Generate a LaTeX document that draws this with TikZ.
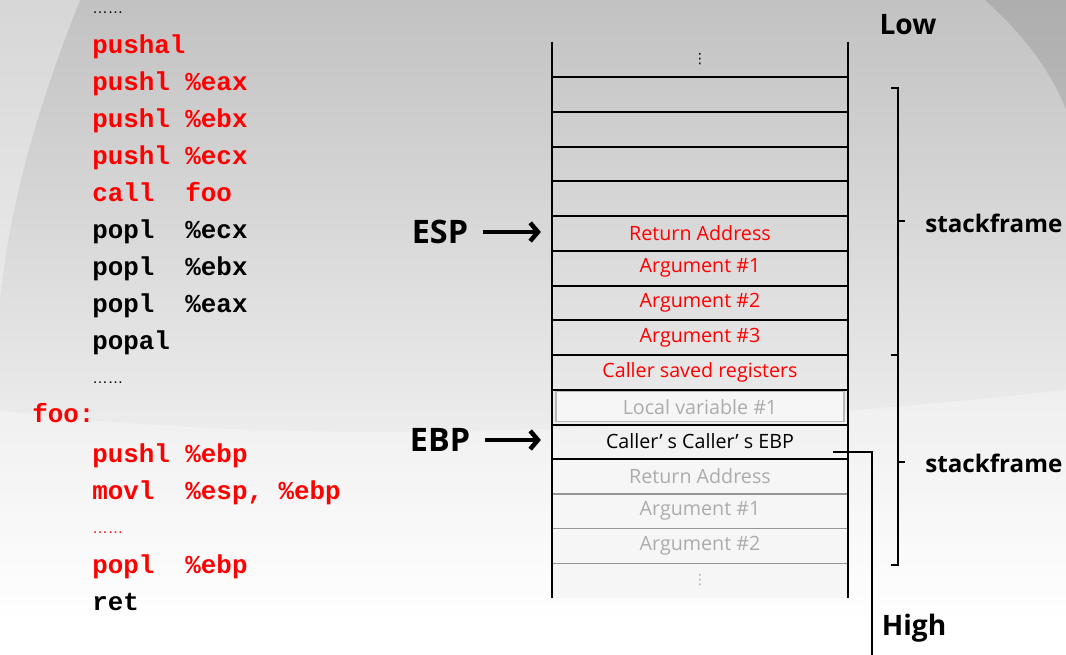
\documentclass[tikz,border=0pt]{standalone}
\usepackage{fontspec}
\setmainfont{Open Sans}
\newfontfamily\monofam{Liberation Mono}
\newfontfamily\dotfam{Liberation Sans}
\newfontfamily\symfam{DejaVu Sans}
\usetikzlibrary{arrows.meta}
\definecolor{codered}{RGB}{255,0,0}
\definecolor{fadegray}{RGB}{172,172,172}
\definecolor{cellwhite}{RGB}{246,246,246}
\definecolor{framegray}{RGB}{185,185,185}
\definecolor{oldgray}{RGB}{150,150,150}
\definecolor{bgtop}{RGB}{194,194,194}
\definecolor{bgmid}{RGB}{214,214,214}
\tikzset{
  code/.style={anchor=base west, inner sep=0pt, font=\monofam\bfseries\fontsize{18.4}{18.4}\selectfont},
  redcode/.style={code, text=codered},
  dots/.style={anchor=base west, inner sep=0pt, font=\dotfam\fontsize{11}{11}\selectfont},
  cell/.style={minimum width=7.4cm, minimum height=0.869cm, inner sep=0pt, font=\fontsize{14}{14}\selectfont},
  redcell/.style={cell, text=codered},
  pastcell/.style={cell, text=fadegray, fill=cellwhite},
  localbox/.style={cell, minimum width=7.2cm, minimum height=0.75cm, text=fadegray, fill=cellwhite, draw=framegray, line width=0.8pt},
  rowline/.style={line width=1.4pt},
  oldline/.style={line width=1pt, oldgray},
  wall/.style={line width=1.4pt},
  biglabel/.style={inner sep=0pt, font=\bfseries\fontsize{20}{20}\selectfont},
  ptrlabel/.style={inner sep=0pt, font=\bfseries\fontsize{23}{23}\selectfont},
  framelabel/.style={anchor=west, inner sep=0pt, font=\bfseries\fontsize{17.2}{17.2}\selectfont},
  brace/.style={line width=1pt},
  ptr/.style={line width=3.2pt, -{Straight Barb[length=5.5pt,width=13pt]}, shorten <=0.375cm, shorten >=0.27cm},
  link/.style={line width=1pt}
}
\begin{document}
\begin{tikzpicture}[x=0.025cm, y=-0.025cm]
\useasboundingbox (0,0) rectangle (1066,655);
% background
\shade[top color=bgtop, middle color=bgmid, bottom color=white] (0,0) rectangle (1066,620);
\fill[white] (0,619) rectangle (1066,655);
\fill[white, opacity=0.35] (0,0) -- (80,0) .. controls (40,100) and (10,200) .. (0,300) -- cycle;
\fill[black, opacity=0.1] (985,0) .. controls (1030,40) and (1055,80) .. (1066,110) -- (1066,0) -- cycle;
\fill[white, opacity=0.3] (0,410) .. controls (300,450) and (700,430) .. (1066,390) -- (1066,655) -- (0,655) -- cycle;

% code
\node[dots] (d1) at (92,14) {……};
\node[redcode] (c1) at (92,54) {pushal};
\node[redcode] (c2) at (92,91) {pushl~\%eax};
\node[redcode] (c3) at (92,128) {pushl~\%ebx};
\node[redcode] (c4) at (92,165) {pushl~\%ecx};
\node[redcode] (c5) at (92,202) {call~~foo};
\node[code] (c6) at (92,239) {popl~~\%ecx};
\node[code] (c7) at (92,276) {popl~~\%ebx};
\node[code] (c8) at (92,313) {popl~~\%eax};
\node[code] (c9) at (92,350) {popal};
\node[dots] (d2) at (92,384) {……};
\node[redcode] (foo) at (32,423) {foo:};
\node[redcode] (c10) at (92,462) {pushl~\%ebp};
\node[redcode] (c11) at (92,499) {movl~~\%esp,~\%ebp};
\node[dots, text=codered] (d3) at (92,533) {……};
\node[redcode] (c12) at (92,573) {popl~~\%ebp};
\node[code] (c13) at (92,610) {ret};

% stack
\node[cell] (r0) at (700,59.4) {\symfam\fontsize{10}{10}\selectfont ⋮};
\node[cell] (r1) at (700,94.1) {};
\node[cell] (r2) at (700,128.9) {};
\node[cell] (r3) at (700,163.6) {};
\node[cell] (r4) at (700,198.4) {};
\node[redcell] (r5) at (700,233.1) {Return Address};
\node[redcell] (r6) at (700,267.9) {Argument \#1};
\node[redcell] (r7) at (700,302.6) {Argument \#2};
\node[redcell] (r8) at (700,337.4) {Argument \#3};
\node[redcell] (r9) at (700,372.1) {Caller saved registers};
\node[cell] (r10) at (700,406.9) {};
\node[localbox] (lv) at (r10) {Local variable \#1};
\node[cell] (r11) at (700,441.6) {Caller’ s Caller’ s EBP};
\node[pastcell] (r12) at (700,476.4) {Return Address};
\node[pastcell] (r13) at (700,511.1) {Argument \#1};
\node[pastcell] (r14) at (700,545.9) {Argument \#2};
\node[pastcell] (r15) at (700,580.6) {\symfam\fontsize{10}{10}\selectfont ⋮};
\foreach \k in {0,...,11} \draw[rowline] (r\k.south west) -- (r\k.south east);
\foreach \k in {12,13,14} \draw[oldline] (r\k.south west) -- (r\k.south east);
\draw[wall] (r0.north west) -- (r15.south west);
\draw[wall] (r0.north east) -- (r15.south east);

% pointers
\node[ptrlabel] (esp) at (440,232) {ESP};
\node[ptrlabel] (ebp) at (440,440) {EBP};
\draw[ptr] (esp.east) -- (esp.east -| r5.west);
\draw[ptr] (ebp.east) -- (ebp.east -| r11.west);

% frames
\draw[brace] (891,88) -- (898,88) -- (898,221) -- (905,221) (898,221) -- (898,355) -- (891,355);
\draw[brace] (891,355) -- (898,355) -- (898,462) -- (905,462) (898,462) -- (898,565) -- (891,565);
\node[framelabel] (sf1) at (925,223) {stackframe};
\node[framelabel] (sf2) at (925,463) {stackframe};
\node[biglabel] (low) at (908,25) {Low};
\node[biglabel] (high) at (914,628) {High};

% saved ebp link
\coordinate (ebpout) at (833,452);
\coordinate (linkend) at (872,655);
\draw[link] (ebpout) -| (linkend);
\end{tikzpicture}
\end{document}
